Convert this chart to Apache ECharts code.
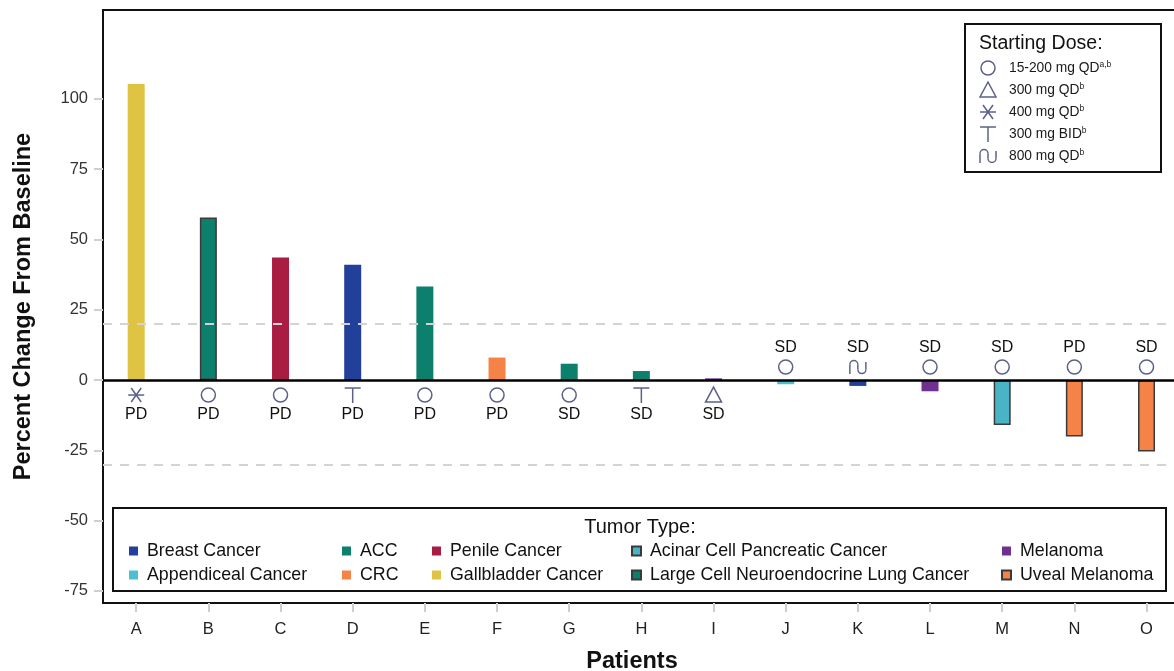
<!DOCTYPE html>
<html>
<head>
<meta charset="utf-8">
<script src="https://cdn.jsdelivr.net/npm/echarts@6/dist/echarts.min.js"></script>
<style>
html,body{margin:0;padding:0;background:#fff;}
#chart{width:1174px;height:671px;}
</style>
</head>
<body>
<div id="chart"></div>
<script>
// ---------- DATA ----------
const categories = ['A','B','C','D','E','F','G','H','I','J','K','L','M','N','O'];
const values = [105.3, 57.8, 43.6, 41.0, 33.3, 8.0, 5.8, 3.2, 0.6, -1.5, -2.1, -4.0, -16.0, -20.1, -25.4];
const patientTumor = ['Gallbladder Cancer','Large Cell Neuroendocrine Lung Cancer','Penile Cancer','Breast Cancer','ACC','CRC','ACC','ACC','Melanoma','Appendiceal Cancer','Breast Cancer','Melanoma','Acinar Cell Pancreatic Cancer','Uveal Melanoma','Uveal Melanoma'];
const patientDose = [2,0,0,3,0,0,0,3,1,0,4,0,0,0,0]; // index into doseLabels
const responses = ['PD','PD','PD','PD','PD','PD','SD','SD','SD','SD','SD','SD','SD','PD','SD'];
const yTicks = [-75,-50,-25,0,25,50,75,100];
const refLines = [20, -30];

const tumorTypes = ['Breast Cancer','Appendiceal Cancer','ACC','CRC','Penile Cancer','Gallbladder Cancer','Acinar Cell Pancreatic Cancer','Large Cell Neuroendocrine Lung Cancer','Melanoma','Uveal Melanoma'];
const tumorColors = ['#22409A','#4CC0D2','#0C7F6D','#F58247','#A91D42','#DFC444','#48B4C6','#0C7F6D','#70308F','#F58247'];
const tumorBordered = [false,false,false,false,false,false,true,true,false,true];

const doseLabels = ['15-200 mg QD','300 mg QD','400 mg QD','300 mg BID','800 mg QD'];
const doseSup = ['a,b','b','b','b','b'];

// ---------- STYLE ----------
const FONT = '"Liberation Sans", Arial, Helvetica, sans-serif';
const DOSE_COLOR = '#5c6188';

function doseShape(code, cx, cy) {
  const st = {stroke: DOSE_COLOR, lineWidth: 1.5, fill: 'none'};
  const line = (x1,y1,x2,y2) => ({type:'line', shape:{x1,y1,x2,y2}, style:st});
  if (code === 0) return [{type:'circle', shape:{cx, cy, r:7}, style:st}];
  if (code === 1) return [{type:'polygon', shape:{points:[[cx,cy-8],[cx+8,cy+7],[cx-8,cy+7]]}, style:st}];
  if (code === 2) return [line(cx-8,cy,cx+8,cy), line(cx-5,cy-7,cx+5,cy+7), line(cx+5,cy-7,cx-5,cy+7)];
  if (code === 3) return [line(cx-8,cy-7,cx+8,cy-7), line(cx,cy-7,cx,cy+8)];
  // code 4: arch + cup
  return [
    line(cx-8,cy+7,cx-8,cy-2.5),
    {type:'arc', shape:{cx:cx-4, cy:cy-2.5, r:4, startAngle:Math.PI, endAngle:Math.PI*2, clockwise:true}, style:st},
    line(cx,cy-2.5,cx,cy+2.5),
    {type:'arc', shape:{cx:cx+4, cy:cy+2.5, r:4, startAngle:0, endAngle:Math.PI, clockwise:true}, style:st},
    line(cx+8,cy+2.5,cx+8,cy-5)
  ];
}

// ---------- SERIES ----------
const barSeries = tumorTypes.map((t, k) => {
  const data = [];
  categories.forEach((c, i) => { if (patientTumor[i] === t) data.push([i, values[i]]); });
  return {
    name: t,
    type: 'bar',
    barWidth: 17,
    barGap: '-100%',
    data: data,
    itemStyle: {
      color: tumorColors[k],
      borderColor: tumorBordered[k] ? '#3a3a3a' : tumorColors[k],
      borderWidth: tumorBordered[k] ? 1.5 : 0
    }
  };
});

barSeries[0].markLine = {
  silent: true,
  symbol: 'none',
  label: {show: false},
  animation: false,
  data: [
    {yAxis: refLines[0], lineStyle: {color: '#d3d3d3', width: 2, type: [9, 8]}},
    {yAxis: refLines[1], lineStyle: {color: '#d3d3d3', width: 2, type: [9, 8]}},
    {yAxis: 0, lineStyle: {color: '#000', width: 2.5, type: 'solid'}}
  ]
};

const markerSeries = {
  type: 'custom',
  name: 'dose',
  silent: true,
  clip: false,
  z: 5,
  data: categories.map((c, i) => [i, values[i]]),
  encode: {x: 0, y: 1},
  renderItem: function (params, api) {
    const i = params.dataIndex;
    const v = api.value(1);
    const base = api.coord([api.value(0), 0]);
    const below = v >= 0;
    const symY = below ? base[1] + 15 : base[1] - 13;
    const txtY = below ? base[1] + 35 : base[1] - 32;
    const children = doseShape(patientDose[i], base[0], symY);
    children.push({
      type: 'text',
      style: {
        text: responses[i], x: base[0], y: txtY,
        align: 'center', verticalAlign: 'middle',
        textAlign: 'center', textVerticalAlign: 'middle',
        font: '16px ' + FONT, fill: '#111'
      }
    });
    return {type: 'group', children: children};
  }
};

// ---------- LEGENDS ----------
const legendCols = [
  {left: 129, names: ['Breast Cancer','Appendiceal Cancer']},
  {left: 342, names: ['ACC','CRC']},
  {left: 432, names: ['Penile Cancer','Gallbladder Cancer']},
  {left: 631, names: ['Acinar Cell Pancreatic Cancer','Large Cell Neuroendocrine Lung Cancer']},
  {left: 1001, names: ['Melanoma','Uveal Melanoma']}
];
const legends = legendCols.map(col => ({
  orient: 'vertical',
  left: col.left,
  top: 542,
  data: col.names,
  icon: 'rect',
  itemWidth: 9,
  itemHeight: 9,
  itemGap: 6,
  padding: 0,
  selectedMode: false,
  textStyle: {fontSize: 17.8, fontFamily: FONT, color: '#111', lineHeight: 18, padding: [0,0,0,4]}
}));

// dose legend graphic
const doseY = [68, 90, 112, 134, 156];
const doseGraphic = [
  {type:'rect', shape:{x:965, y:24, width:196, height:148}, style:{fill:'none', stroke:'#111', lineWidth:2}},
  {type:'text', style:{text:'Starting Dose:', x:979, y:44, verticalAlign:'middle', textVerticalAlign:'middle', font:'19.5px ' + FONT, fill:'#111'}}
];
doseLabels.forEach((lab, k) => {
  doseShape(k, 988, doseY[k]).forEach(el => doseGraphic.push(el));
  doseGraphic.push({
    type:'text',
    style:{
      text: lab + '{s|' + doseSup[k] + '}',
      x: 1009, y: doseY[k],
      verticalAlign:'middle', textVerticalAlign:'middle',
      font: '13.8px ' + FONT, fill:'#1a1a1a', lineHeight: 16,
      rich: {s: {fontSize: 8.5, lineHeight: 9, verticalAlign: 'top', fill: '#1a1a1a', fontFamily: FONT}}
    }
  });
});

const tumorGraphic = [
  {type:'rect', shape:{x:113, y:508, width:1053, height:83}, style:{fill:'none', stroke:'#111', lineWidth:2}},
  {type:'text', style:{text:'Tumor Type:', x:640, y:527, align:'center', verticalAlign:'middle', textAlign:'center', textVerticalAlign:'middle', font:'20px ' + FONT, fill:'#111'}}
];

// ---------- CHART ----------
const chart = echarts.init(document.getElementById('chart'), null, {renderer: 'canvas'});
chart.setOption({
  animation: false,
  backgroundColor: '#fff',
  grid: {left: 103, width: 1076, top: 10, bottom: 68, outerBoundsMode: 'none', containLabel: false, show: true, borderColor: '#111', borderWidth: 2, backgroundColor: 'transparent'},
  xAxis: {
    type: 'value',
    min: -0.46,
    max: 14.45,
    name: 'Patients',
    nameLocation: 'middle',
    nameGap: 47,
    nameTextStyle: {fontSize: 23.5, fontWeight: 'bold', fontFamily: FONT, color: '#111', padding: [0, 18, 0, 0]},
    axisLine: {show: false, onZero: false},
    splitLine: {show: false},
    axisTick: {show: true, customValues: categories.map((c, i) => i), length: 9, lineStyle: {color: '#cfcfcf', width: 2}},
    axisLabel: {customValues: categories.map((c, i) => i), formatter: v => categories[Math.round(v)], margin: 18, fontSize: 16.5, fontFamily: FONT, color: '#222'}
  },
  yAxis: {
    type: 'value',
    min: -79.3,
    max: 131.6,
    name: 'Percent Change From Baseline',
    nameLocation: 'middle',
    nameGap: 67,
    nameTextStyle: {fontSize: 23.5, fontWeight: 'bold', fontFamily: FONT, color: '#111'},
    axisLine: {show: false, onZero: false},
    splitLine: {show: false},
    axisTick: {show: true, customValues: yTicks, length: 9, lineStyle: {color: '#cfcfcf', width: 2}},
    axisLabel: {customValues: yTicks, margin: 15, fontSize: 16.5, fontFamily: FONT, color: '#333'}
  },
  legend: legends,
  graphic: {elements: doseGraphic.concat(tumorGraphic)},
  series: barSeries.concat([markerSeries])
});
</script>
</body>
</html>
